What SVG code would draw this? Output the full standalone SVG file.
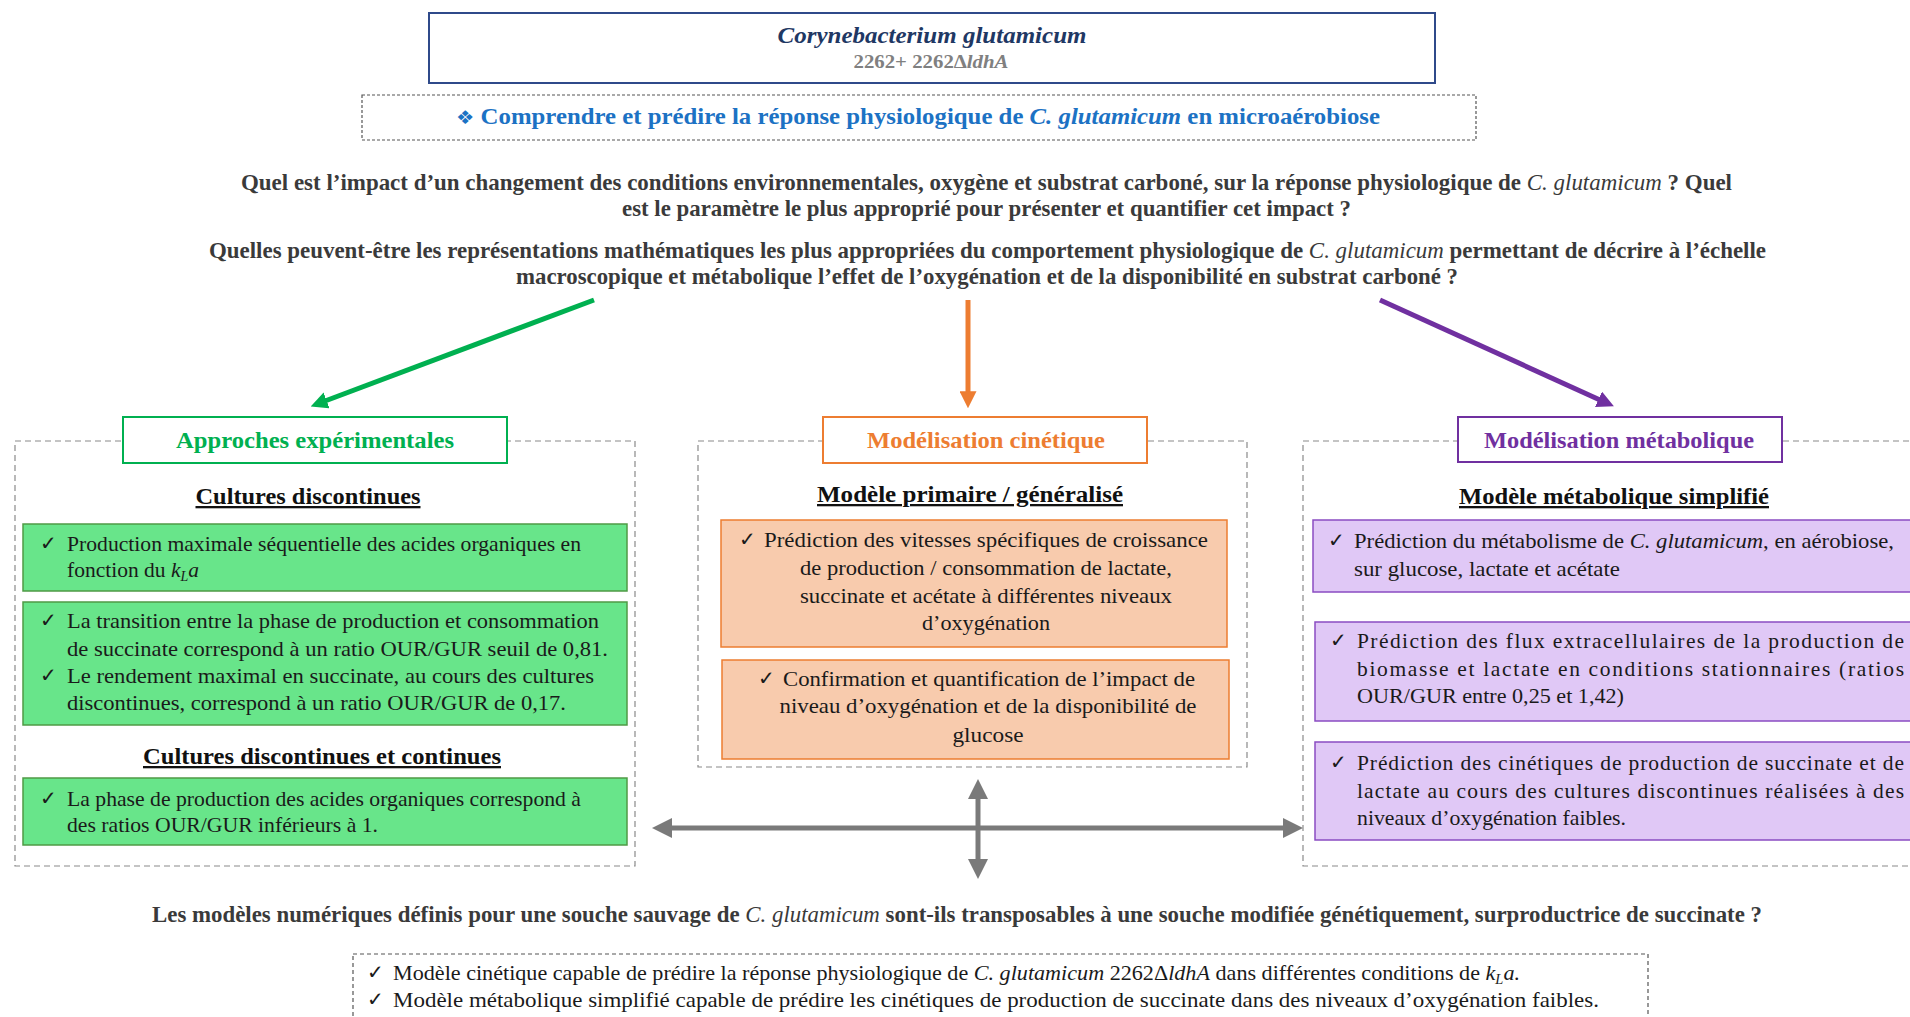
<svg xmlns="http://www.w3.org/2000/svg" width="1910" height="1017" viewBox="0 0 1910 1017">
<style>
text{font-family:"Liberation Serif","Times New Roman",serif;}
.q{font-weight:bold;font-size:22.5px;fill:#3a3a3a;}
.itn{font-style:italic;font-weight:normal;}
.body{font-size:21.5px;fill:#1a1a1a;}
.ck{font-family:"DejaVu Sans",sans-serif;font-size:20px;fill:#1a1a1a;}
.sub{font-weight:bold;font-size:23px;fill:#111;text-decoration:underline;}
.hdr{font-weight:bold;font-size:24px;}
.panel{fill:none;stroke:#8a8a8a;stroke-width:1.2;stroke-dasharray:6 4;}
.gbox{fill:#68E58A;stroke:#4f9a45;stroke-width:1.5;}
.obox{fill:#F8CBAD;stroke:#ED7D31;stroke-width:1.5;}
.pbox{fill:#E0C8F6;stroke:#8a4cc2;stroke-width:1.5;}
</style>
<defs>
<marker id="ahG" viewBox="0 0 10 10" refX="1" refY="5" markerWidth="3.4" markerHeight="3.4" orient="auto"><path d="M0,0 L10,5 L0,10 z" fill="#00B050"/></marker>
<marker id="ahO" viewBox="0 0 10 10" refX="1" refY="5" markerWidth="3.4" markerHeight="3.4" orient="auto"><path d="M0,0 L10,5 L0,10 z" fill="#ED7D31"/></marker>
<marker id="ahP" viewBox="0 0 10 10" refX="1" refY="5" markerWidth="3.4" markerHeight="3.4" orient="auto"><path d="M0,0 L10,5 L0,10 z" fill="#7030A0"/></marker>
<marker id="ahK" viewBox="0 0 10 10" refX="1" refY="5" markerWidth="4" markerHeight="4" orient="auto-start-reverse"><path d="M0,0 L10,5 L0,10 z" fill="#7a7a7a"/></marker>
</defs>
<rect width="1910" height="1017" fill="#fff"/>

<g id="title">
<rect x="429" y="13" width="1006" height="70" fill="#fff" stroke="#2F4A8A" stroke-width="2"/>
<text x="932" y="43" text-anchor="middle" font-size="24" font-weight="bold" font-style="italic" fill="#1F3864" textLength="309" lengthAdjust="spacingAndGlyphs">Corynebacterium glutamicum</text>
<text x="931" y="68" text-anchor="middle" font-size="18" font-weight="bold" fill="#808080" textLength="155" lengthAdjust="spacingAndGlyphs">2262+ 2262Δ<tspan font-style="italic">ldhA</tspan></text>
</g>

<g id="objective">
<rect x="362" y="95" width="1114" height="45" fill="#fff" stroke="#555" stroke-width="1.2" stroke-dasharray="3 2"/>
<text x="918" y="124" text-anchor="middle" font-size="23" font-weight="bold" fill="#1C72C4" textLength="924" lengthAdjust="spacingAndGlyphs"><tspan font-family="DejaVu Sans, sans-serif" font-weight="normal" font-size="19">❖</tspan> Comprendre  et prédire  la  réponse physiologique  de <tspan font-style="italic">C. glutamicum</tspan> en microaérobiose</text>
</g>

<g id="question1">
<text class="q" x="241" y="190" textLength="1491" lengthAdjust="spacingAndGlyphs">Quel est l’impact d’un changement des conditions environnementales, oxygène et substrat carboné, sur la réponse physiologique de <tspan class="itn">C. glutamicum</tspan> ? Quel</text>
<text class="q" x="622" y="216" textLength="729" lengthAdjust="spacingAndGlyphs">est le paramètre le plus approprié pour présenter et quantifier cet impact ?</text>
</g>

<g id="question2">
<text class="q" x="209" y="258" textLength="1557" lengthAdjust="spacingAndGlyphs">Quelles peuvent-être les représentations mathématiques les plus appropriées du comportement physiologique de <tspan class="itn">C. glutamicum</tspan> permettant de décrire à l’échelle</text>
<text class="q" x="516" y="284" textLength="942" lengthAdjust="spacingAndGlyphs">macroscopique et métabolique l’effet de l’oxygénation et de la disponibilité en substrat carboné ?</text>
</g>

<g id="connectors">
<line x1="594" y1="300" x2="325" y2="401" stroke="#00B050" stroke-width="5" marker-end="url(#ahG)"/>
<line x1="968" y1="300" x2="968" y2="393" stroke="#ED7D31" stroke-width="5" marker-end="url(#ahO)"/>
<line x1="1380" y1="300" x2="1600" y2="400" stroke="#7030A0" stroke-width="5" marker-end="url(#ahP)"/>
<line x1="670" y1="828" x2="1285" y2="828" stroke="#7a7a7a" stroke-width="5" marker-start="url(#ahK)" marker-end="url(#ahK)"/>
<line x1="978" y1="797" x2="978" y2="861" stroke="#7a7a7a" stroke-width="5" marker-start="url(#ahK)" marker-end="url(#ahK)"/>
</g>

<g id="panel-experimental">
<rect class="panel" x="15" y="441" width="620" height="425"/>
<rect x="123" y="417" width="384" height="46" fill="#fff" stroke="#00B050" stroke-width="2"/>
<text class="hdr" x="315" y="448" text-anchor="middle" fill="#00B050" textLength="278" lengthAdjust="spacingAndGlyphs">Approches  expérimentales</text>
<text class="sub" x="308" y="504" text-anchor="middle" textLength="225" lengthAdjust="spacingAndGlyphs">Cultures  discontinues</text>
<rect class="gbox" x="23" y="524" width="604" height="67"/>
<text class="ck" x="40" y="550">✓</text>
<text class="body" x="67" y="551" textLength="514" lengthAdjust="spacingAndGlyphs">Production maximale  séquentielle  des acides  organiques en</text>
<text class="body" x="67" y="577">fonction du <tspan font-style="italic">k<tspan font-size="14" dy="4">L</tspan><tspan dy="-4">a</tspan></tspan></text>
<rect class="gbox" x="23" y="602" width="604" height="123"/>
<text class="ck" x="40" y="627">✓</text>
<text class="body" x="67" y="628" textLength="532" lengthAdjust="spacingAndGlyphs">La transition  entre la phase de production  et consommation</text>
<text class="body" x="67" y="656" textLength="541" lengthAdjust="spacingAndGlyphs">de succinate correspond à un ratio OUR/GUR seuil de 0,81.</text>
<text class="ck" x="40" y="682">✓</text>
<text class="body" x="67" y="683" textLength="527" lengthAdjust="spacingAndGlyphs">Le rendement maximal  en succinate, au cours des cultures</text>
<text class="body" x="67" y="710" textLength="499" lengthAdjust="spacingAndGlyphs">discontinues,  correspond à un ratio  OUR/GUR de 0,17.</text>
<text class="sub" x="322" y="764" text-anchor="middle" textLength="358" lengthAdjust="spacingAndGlyphs">Cultures  discontinues  et continues</text>
<rect class="gbox" x="23" y="778" width="604" height="67"/>
<text class="ck" x="40" y="805">✓</text>
<text class="body" x="67" y="806" textLength="514" lengthAdjust="spacingAndGlyphs">La phase de production des acides organiques correspond à</text>
<text class="body" x="67" y="832" textLength="311" lengthAdjust="spacingAndGlyphs">des ratios OUR/GUR  inférieurs à 1.</text>
</g>

<g id="panel-kinetic">
<rect class="panel" x="698" y="441" width="549" height="326"/>
<rect x="823" y="417" width="324" height="46" fill="#fff" stroke="#ED7D31" stroke-width="2"/>
<text class="hdr" x="986" y="448" text-anchor="middle" fill="#ED7D31" textLength="238" lengthAdjust="spacingAndGlyphs">Modélisation cinétique</text>
<text class="sub" x="970" y="502" text-anchor="middle" textLength="306" lengthAdjust="spacingAndGlyphs">Modèle primaire  /  généralisé</text>
<rect class="obox" x="721" y="520" width="506" height="127"/>
<text class="ck" x="739" y="546">✓</text>
<text class="body" x="764" y="547" textLength="444" lengthAdjust="spacingAndGlyphs">Prédiction  des vitesses spécifiques de croissance</text>
<text class="body" x="986" y="575" text-anchor="middle" textLength="372" lengthAdjust="spacingAndGlyphs">de production  /  consommation  de lactate,</text>
<text class="body" x="986" y="603" text-anchor="middle" textLength="372" lengthAdjust="spacingAndGlyphs">succinate et acétate à différentes niveaux</text>
<text class="body" x="986" y="630" text-anchor="middle" textLength="128" lengthAdjust="spacingAndGlyphs">d’oxygénation</text>
<rect class="obox" x="722" y="660" width="507" height="99"/>
<text class="ck" x="758" y="685">✓</text>
<text class="body" x="783" y="686" textLength="412" lengthAdjust="spacingAndGlyphs">Confirmation  et quantification  de l’impact  de</text>
<text class="body" x="988" y="713" text-anchor="middle" textLength="417" lengthAdjust="spacingAndGlyphs">niveau  d’oxygénation  et de la  disponibilité   de</text>
<text class="body" x="988" y="742" text-anchor="middle" textLength="71" lengthAdjust="spacingAndGlyphs">glucose</text>
</g>

<g id="panel-metabolic">
<rect class="panel" x="1303" y="441" width="640" height="425"/>
<rect x="1458" y="417" width="324" height="45" fill="#fff" stroke="#7030A0" stroke-width="2"/>
<text class="hdr" x="1619" y="448" text-anchor="middle" fill="#7030A0" textLength="270" lengthAdjust="spacingAndGlyphs">Modélisation métabolique</text>
<text class="sub" x="1614" y="504" text-anchor="middle" textLength="310" lengthAdjust="spacingAndGlyphs">Modèle métabolique  simplifié</text>
<rect class="pbox" x="1313" y="520" width="620" height="72"/>
<text class="ck" x="1328" y="547">✓</text>
<text class="body" x="1354" y="548" textLength="540" lengthAdjust="spacingAndGlyphs">Prédiction du métabolisme de <tspan font-style="italic">C. glutamicum</tspan>, en aérobiose,</text>
<text class="body" x="1354" y="576" textLength="266" lengthAdjust="spacingAndGlyphs">sur glucose, lactate et acétate</text>
<rect class="pbox" x="1315" y="622" width="620" height="99"/>
<text class="ck" x="1330" y="647">✓</text>
<text class="body" x="1357" y="648" textLength="547" lengthAdjust="spacing">Prédiction des flux extracellulaires de la production de</text>
<text class="body" x="1357" y="676" textLength="547" lengthAdjust="spacing">biomasse et lactate en conditions stationnaires (ratios</text>
<text class="body" x="1357" y="703" textLength="267" lengthAdjust="spacingAndGlyphs">OUR/GUR entre 0,25  et 1,42)</text>
<rect class="pbox" x="1315" y="742" width="620" height="98"/>
<text class="ck" x="1330" y="769">✓</text>
<text class="body" x="1357" y="770" textLength="547" lengthAdjust="spacing">Prédiction des cinétiques de production de succinate et de</text>
<text class="body" x="1357" y="798" textLength="547" lengthAdjust="spacing">lactate au cours des cultures discontinues réalisées à des</text>
<text class="body" x="1357" y="825" textLength="269" lengthAdjust="spacingAndGlyphs">niveaux d’oxygénation  faibles.</text>
</g>

<g id="question3">
<text class="q" x="152" y="922" textLength="1610" lengthAdjust="spacingAndGlyphs">Les modèles numériques définis pour une souche sauvage de <tspan class="itn">C. glutamicum</tspan> sont-ils transposables à une souche modifiée génétiquement, surproductrice de succinate ?</text>
</g>

<g id="conclusion">
<rect x="353" y="954" width="1295" height="80" fill="none" stroke="#555" stroke-width="1.2" stroke-dasharray="4 3"/>
<text class="ck" x="367" y="979">✓</text>
<text class="body" x="393" y="980" textLength="1127" lengthAdjust="spacingAndGlyphs">Modèle cinétique  capable de prédire la réponse physiologique  de <tspan font-style="italic">C. glutamicum</tspan> 2262Δ<tspan font-style="italic">ldhA</tspan> dans différentes conditions  de <tspan font-style="italic">k<tspan font-size="14" dy="4">L</tspan><tspan dy="-4">a</tspan>.</tspan></text>
<text class="ck" x="367" y="1006">✓</text>
<text class="body" x="393" y="1007" textLength="1206" lengthAdjust="spacingAndGlyphs">Modèle métabolique  simplifié  capable de prédire les cinétiques de production  de succinate dans des niveaux  d’oxygénation  faibles.</text>
</g>
</svg>
